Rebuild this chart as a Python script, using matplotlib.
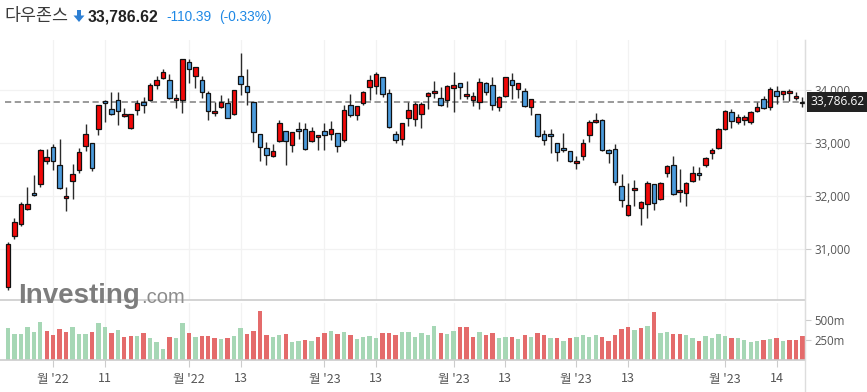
import matplotlib
matplotlib.use('Agg')
import matplotlib.pyplot as plt
import numpy as np
from matplotlib.patches import Polygon
from matplotlib.lines import Line2D

# ---------------- data (Dow Jones daily, 21 Oct 2022 .. 20 Apr 2023) ----------------
opens = [30285, 31250, 31465, 31749, 32058, 32222, 32670, 32922, 32581, 31957,
         32279, 32487, 32941, 32998, 33263, 33799, 33648, 33812, 33509, 33282,
         33623, 33780, 33812, 34096, 34228, 34190, 33812, 33812, 34531, 34266,
         34190, 33944, 33566, 33692, 33755, 33547, 34266, 34077, 33774, 33168,
         32903, 32752, 33036, 33225, 32960, 33263, 33263, 33036, 33111, 33225,
         33168, 33187, 33055, 33717, 33528, 33755, 34058, 34077, 34247, 33944,
         33168, 33074, 33471, 33452, 33547, 33888, 33944, 33850, 33812, 34039,
         34134, 33888, 33812, 33774, 34134, 34096, 33679, 33888, 34190, 34020,
         33982, 33679, 33547, 33168, 33168, 32998, 32903, 32846, 32619, 32752,
         33149, 33395, 33433, 32865, 32884, 32184, 31635, 32108, 31767, 31843,
         32222, 31938, 32430, 32581, 32070, 32051, 32279, 32430, 32581, 32809,
         32903, 33263, 33585, 33395, 33433, 33395, 33604, 33831, 33679, 33982,
         33925, 33944, 33850, 33755]
highs = [31130, 31591, 31881, 32171, 32398, 32891, 32884, 32979, 33080, 32178,
         32600, 32903, 33358, 33011, 33722, 33818, 33976, 33976, 33673, 33560,
         33818, 33875, 34134, 34272, 34399, 34304, 33932, 34592, 34595, 34449,
         34272, 33995, 33774, 33906, 33850, 34006, 34702, 34399, 33780, 33174,
         33029, 32992, 33433, 33230, 33210, 33395, 33376, 33301, 33155, 33376,
         33414, 33192, 33717, 33925, 33704, 33982, 34285, 34342, 34252, 34020,
         33225, 33381, 33774, 33774, 33774, 33963, 34172, 34058, 34096, 34342,
         34140, 34172, 33963, 34228, 34153, 34247, 33888, 34252, 34323, 34140,
         34039, 33836, 33552, 33244, 33263, 33004, 33187, 32852, 32752, 33074,
         33433, 33566, 33452, 32884, 32979, 32411, 32241, 32298, 31900, 32279,
         32228, 32260, 32581, 32752, 32506, 32260, 32563, 32544, 32733, 32903,
         33282, 33623, 33641, 33547, 33528, 33604, 33774, 33888, 34058, 34077,
         33988, 34020, 33963, 33869]
lows = [30221, 31181, 31439, 31736, 32001, 32171, 32600, 32493, 32140, 31723,
        31938, 32430, 32846, 32480, 33156, 33395, 33540, 33339, 33503, 33263,
        33541, 33566, 33799, 34020, 34209, 33831, 33673, 33578, 34134, 34052,
        33850, 33433, 33509, 33660, 33471, 33542, 33913, 33717, 33017, 32657,
        32581, 32733, 33030, 32581, 32834, 33074, 32878, 33030, 32865, 32865,
        33055, 32828, 33017, 33490, 33433, 33717, 33812, 33925, 33869, 33282,
        32998, 32960, 33320, 33320, 33282, 33641, 33850, 33698, 33679, 33585,
        33831, 33831, 33698, 33641, 33906, 33623, 33604, 33882, 33831, 33850,
        33692, 33528, 33125, 32960, 32809, 32657, 32828, 32638, 32506, 32676,
        33017, 33376, 32846, 32619, 32203, 31786, 31630, 31805, 31446, 31578,
        31730, 31932, 32354, 32026, 31881, 31805, 32273, 32298, 32544, 32695,
        32897, 33257, 33282, 33358, 33339, 33358, 33598, 33641, 33623, 33736,
        33812, 33793, 33812, 33679]
closes = [31086, 31502, 31850, 31852, 32014, 32872, 32739, 32657, 32146, 32001,
          32411, 32828, 33168, 32525, 33717, 33755, 33547, 33610, 33547, 33547,
          33755, 33717, 34096, 34190, 34342, 33850, 33852, 34588, 34399, 34437,
          33963, 33604, 33610, 33774, 33484, 34001, 34115, 33976, 33206, 32922,
          32771, 32846, 33376, 33036, 33206, 33225, 32884, 33225, 33149, 33149,
          33263, 32941, 33623, 33528, 33698, 33963, 34190, 34304, 33925, 33301,
          33055, 33376, 33623, 33736, 33736, 33944, 33982, 33717, 34077, 34096,
          34058, 33925, 33888, 34153, 33963, 33717, 33869, 34247, 34096, 34134,
          33698, 33831, 33130, 33055, 33130, 32828, 32865, 32657, 32660, 32998,
          33395, 33433, 32865, 32809, 32260, 31919, 31824, 32146, 31881, 32241,
          31862, 32241, 32563, 32032, 32108, 32241, 32430, 32392, 32714, 32865,
          33263, 33604, 33414, 33490, 33490, 33585, 33679, 33660, 34020, 33888,
          33982, 33982, 33888, 33786.62]
volumes_m = [396, 325, 325, 412, 350, 475, 362, 312, 388, 350,
             412, 325, 325, 350, 462, 412, 338, 375, 288, 300,
             300, 338, 275, 225, 138, 288, 275, 462, 338, 288,
             300, 300, 275, 262, 275, 300, 400, 325, 362, 612,
             312, 288, 312, 325, 225, 238, 250, 238, 288, 338,
             362, 325, 350, 312, 262, 288, 300, 275, 338, 338,
             312, 350, 350, 288, 338, 312, 425, 338, 325, 362,
             412, 412, 288, 350, 312, 338, 275, 288, 288, 262,
             312, 288, 338, 312, 275, 275, 238, 275, 288, 312,
             288, 312, 288, 238, 312, 388, 412, 375, 400, 425,
             600, 338, 350, 325, 325, 312, 275, 238, 300, 275,
             325, 300, 275, 275, 250, 225, 238, 250, 262, 275,
             238, 250, 250, 300]
# 1 = closed above previous close (green volume), 0 = below (red volume)
vol_up = [1, 1, 1, 1, 1, 1, 0, 0, 0, 0,
          1, 1, 1, 0, 1, 1, 0, 1, 0, 0,
          1, 0, 1, 1, 1, 0, 1, 1, 0, 1,
          0, 0, 0, 1, 0, 1, 1, 0, 0, 0,
          0, 1, 1, 0, 1, 1, 0, 1, 0, 0,
          1, 0, 1, 0, 1, 1, 1, 1, 0, 0,
          0, 1, 1, 1, 1, 1, 1, 0, 1, 1,
          0, 0, 0, 1, 0, 0, 1, 1, 0, 1,
          0, 1, 0, 0, 1, 0, 1, 0, 1, 1,
          1, 1, 0, 0, 0, 0, 0, 1, 0, 1,
          0, 1, 1, 0, 0, 1, 1, 0, 1, 1,
          1, 1, 0, 1, 1, 1, 1, 0, 1, 0,
          1, 0, 0, 0]
tick_idx = [7, 15, 28, 36, 49, 57, 69, 77, 88, 96, 111, 119]
tick_labels = ["월 '22", "11", "월 '22", "13", "월 '23", "13",
               "월 '23", "13", "월 '23", "13", "월 '23", "14"]
price_ticks = [31000, 32000, 33000, 34000]
vol_ticks = [250, 500]
vol_tick_labels = ["250m", "500m"]
last_price = 33786.62
title_name = "다우존스"
title_price = "33,786.62"
title_change = "-110.39"
title_pct = "(-0.33%)"

# ---------------- figure ----------------
W, H = 867, 392
fig = plt.figure(figsize=(W / 100, H / 100), dpi=100)
fig.patch.set_facecolor('white')


def rect(x0, y0, x1, y1):
    return [x0 / W, 1 - y1 / H, (x1 - x0) / W, (y1 - y0) / H]


def fx(x):
    return x / W


def fy(y):
    return 1 - y / H


ax_p = fig.add_axes(rect(0, 40, 805, 300))
ax_v = fig.add_axes(rect(0, 303, 805, 360), sharex=ax_p)

o = np.array(opens, float)
h = np.array(highs, float)
l = np.array(lows, float)
c = np.array(closes, float)
v = np.array(volumes_m, float)
x = np.arange(len(o))

RED = '#f20808'
BLUE = '#4b9bdc'
up = c >= o
body_lo = np.minimum(o, c)
body_h = np.maximum(np.abs(c - o), 28)

ax_p.vlines(x, l, h, color='#2b2b2b', lw=1.0, zorder=2)
ax_p.bar(x, body_h, bottom=body_lo, width=0.7,
         color=np.where(up, RED, BLUE), edgecolor='#111111', linewidth=0.9, zorder=3)

ax_p.hlines(last_price, -0.5, 123.4, color='#9a9a9a', lw=1.4,
            linestyles=(0, (3.2, 1.8)), zorder=1)

ax_p.set_xlim(-1.24, 123.4)
ax_p.set_ylim(30032, 34954)

for ax in (ax_p, ax_v):
    ax.set_facecolor('none')
    ax.spines['top'].set_visible(False)
    ax.spines['left'].set_visible(False)
    ax.spines['right'].set_color('#dddddd')
    ax.spines['bottom'].set_color('#cccccc')
    ax.spines['bottom'].set_linewidth(1.2)
    ax.set_axisbelow(True)
    ax.grid(axis='x', color='#f2f2f2', lw=0.9)
    ax.yaxis.tick_right()

ax_p.grid(axis='y', color='#f2f2f2', lw=0.9)
ax_p.set_yticks(price_ticks)
ax_p.set_yticklabels([f"{t:,}" for t in price_ticks])
ax_p.tick_params(axis='y', length=4, color='#cccccc', labelcolor='#555555',
                 labelsize=8.3, pad=3)
ax_p.tick_params(axis='x', bottom=False, labelbottom=False)
for lab in ax_p.get_yticklabels():
    lab.set_family('Open Sans')

# volume
ax_v.bar(x, v, width=0.68, color=np.where(np.array(vol_up) == 1, '#a6d7b5', '#e46b6b'),
         linewidth=0, zorder=2)
ax_v.set_ylim(0, 712)
ax_v.set_yticks(vol_ticks)
ax_v.set_yticklabels(vol_tick_labels)
ax_v.tick_params(axis='y', length=4, color='#cccccc', labelcolor='#555555',
                 labelsize=8.3, pad=3)
for lab in ax_v.get_yticklabels():
    lab.set_family('Open Sans')
ax_v.set_xticks(tick_idx)
ax_v.set_xticklabels(tick_labels)
ax_v.tick_params(axis='x', length=5, color='#cccccc', labelcolor='#555555',
                 labelsize=9, pad=4)
for lab in ax_v.get_xticklabels():
    lab.set_family(['Noto Sans CJK KR', 'DejaVu Sans'])

# right border line spanning the whole height
fig.add_artist(Line2D([fx(805), fx(805)], [fy(40), fy(392)], color='#dddddd', lw=1.0))

# last price label box
ax_p.annotate(f"{last_price:,.2f}", xy=(1.0, last_price),
              xycoords=('axes fraction', 'data'),
              xytext=(4, 0), textcoords='offset points',
              ha='left', va='center', color='white', fontsize=8.6,
              family='Open Sans', zorder=10,
              bbox=dict(boxstyle='square,pad=0.28', fc='#222222', ec='none'))

# watermark logo
fig.text(fx(18), fy(303), 'Investing', fontsize=20, fontweight='bold',
         family='Liberation Sans', color='#7d7d7d', va='baseline', ha='left')
fig.text(fx(141), fy(303), '.com', fontsize=14.5, family='Liberation Sans',
         color='#8d8d8d', va='baseline', ha='left')

# header
fig.text(fx(4), fy(16.5), title_name, fontsize=12.5,
         family=['Noto Sans CJK KR', 'DejaVu Sans'], color='#3a3a3a',
         va='center', ha='left')
arrow_pts = [(77, 10), (81, 10), (81, 15.5), (84.5, 15.5), (79, 22),
             (73.5, 15.5), (77, 15.5)]
fig.add_artist(Polygon([(fx(px), fy(py)) for px, py in arrow_pts], closed=True,
                       transform=fig.transFigure, fc='#2d7fd3', ec='none'))
fig.text(fx(88), fy(17), title_price, fontsize=11.3, fontweight='bold',
         family='Liberation Sans', color='#222222', va='center', ha='left')
fig.text(fx(166), fy(17), title_change, fontsize=9.8,
         family='Liberation Sans', color='#1e88e5', va='center', ha='left')
fig.text(fx(219), fy(17), title_pct, fontsize=9.8,
         family='Liberation Sans', color='#1e88e5', va='center', ha='left')

fig.savefig('out.png', dpi=100)
